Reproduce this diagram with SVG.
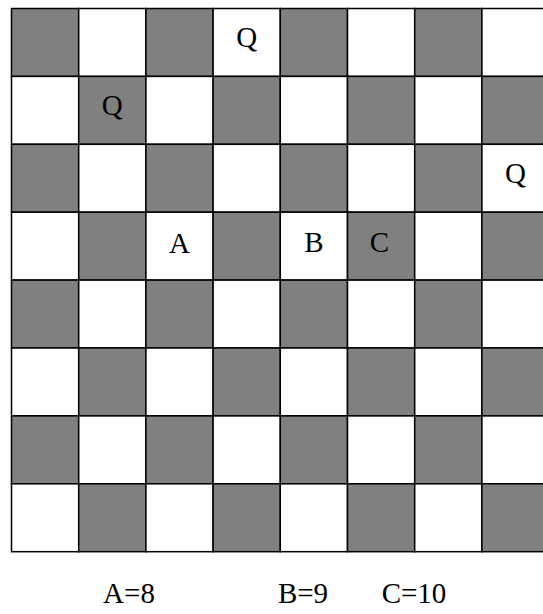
<svg xmlns="http://www.w3.org/2000/svg" width="543" height="614" viewBox="0 0 543 614">
<style>
.d{fill:#808080;stroke:#000;stroke-width:1.5}
.l{fill:#fff;stroke:#000;stroke-width:1.5}
text{font-family:"Liberation Serif","DejaVu Serif",serif;font-size:29px;fill:#000;text-anchor:middle}
</style>
<rect width="543" height="614" fill="#fff"/>
<g id="board">
<rect class="d" x="11.5" y="8.5" width="67.2" height="67.9"/><rect class="l" x="78.7" y="8.5" width="67.2" height="67.9"/><rect class="d" x="145.9" y="8.5" width="67.2" height="67.9"/><rect class="l" x="213.1" y="8.5" width="67.2" height="67.9"/><rect class="d" x="280.3" y="8.5" width="67.2" height="67.9"/><rect class="l" x="347.5" y="8.5" width="67.2" height="67.9"/><rect class="d" x="414.7" y="8.5" width="67.2" height="67.9"/><rect class="l" x="481.9" y="8.5" width="67.2" height="67.9"/>
<rect class="l" x="11.5" y="76.4" width="67.2" height="67.9"/><rect class="d" x="78.7" y="76.4" width="67.2" height="67.9"/><rect class="l" x="145.9" y="76.4" width="67.2" height="67.9"/><rect class="d" x="213.1" y="76.4" width="67.2" height="67.9"/><rect class="l" x="280.3" y="76.4" width="67.2" height="67.9"/><rect class="d" x="347.5" y="76.4" width="67.2" height="67.9"/><rect class="l" x="414.7" y="76.4" width="67.2" height="67.9"/><rect class="d" x="481.9" y="76.4" width="67.2" height="67.9"/>
<rect class="d" x="11.5" y="144.3" width="67.2" height="67.9"/><rect class="l" x="78.7" y="144.3" width="67.2" height="67.9"/><rect class="d" x="145.9" y="144.3" width="67.2" height="67.9"/><rect class="l" x="213.1" y="144.3" width="67.2" height="67.9"/><rect class="d" x="280.3" y="144.3" width="67.2" height="67.9"/><rect class="l" x="347.5" y="144.3" width="67.2" height="67.9"/><rect class="d" x="414.7" y="144.3" width="67.2" height="67.9"/><rect class="l" x="481.9" y="144.3" width="67.2" height="67.9"/>
<rect class="l" x="11.5" y="212.2" width="67.2" height="67.9"/><rect class="d" x="78.7" y="212.2" width="67.2" height="67.9"/><rect class="l" x="145.9" y="212.2" width="67.2" height="67.9"/><rect class="d" x="213.1" y="212.2" width="67.2" height="67.9"/><rect class="l" x="280.3" y="212.2" width="67.2" height="67.9"/><rect class="d" x="347.5" y="212.2" width="67.2" height="67.9"/><rect class="l" x="414.7" y="212.2" width="67.2" height="67.9"/><rect class="d" x="481.9" y="212.2" width="67.2" height="67.9"/>
<rect class="d" x="11.5" y="280.1" width="67.2" height="67.9"/><rect class="l" x="78.7" y="280.1" width="67.2" height="67.9"/><rect class="d" x="145.9" y="280.1" width="67.2" height="67.9"/><rect class="l" x="213.1" y="280.1" width="67.2" height="67.9"/><rect class="d" x="280.3" y="280.1" width="67.2" height="67.9"/><rect class="l" x="347.5" y="280.1" width="67.2" height="67.9"/><rect class="d" x="414.7" y="280.1" width="67.2" height="67.9"/><rect class="l" x="481.9" y="280.1" width="67.2" height="67.9"/>
<rect class="l" x="11.5" y="348" width="67.2" height="67.9"/><rect class="d" x="78.7" y="348" width="67.2" height="67.9"/><rect class="l" x="145.9" y="348" width="67.2" height="67.9"/><rect class="d" x="213.1" y="348" width="67.2" height="67.9"/><rect class="l" x="280.3" y="348" width="67.2" height="67.9"/><rect class="d" x="347.5" y="348" width="67.2" height="67.9"/><rect class="l" x="414.7" y="348" width="67.2" height="67.9"/><rect class="d" x="481.9" y="348" width="67.2" height="67.9"/>
<rect class="d" x="11.5" y="415.9" width="67.2" height="67.9"/><rect class="l" x="78.7" y="415.9" width="67.2" height="67.9"/><rect class="d" x="145.9" y="415.9" width="67.2" height="67.9"/><rect class="l" x="213.1" y="415.9" width="67.2" height="67.9"/><rect class="d" x="280.3" y="415.9" width="67.2" height="67.9"/><rect class="l" x="347.5" y="415.9" width="67.2" height="67.9"/><rect class="d" x="414.7" y="415.9" width="67.2" height="67.9"/><rect class="l" x="481.9" y="415.9" width="67.2" height="67.9"/>
<rect class="l" x="11.5" y="483.8" width="67.2" height="67.9"/><rect class="d" x="78.7" y="483.8" width="67.2" height="67.9"/><rect class="l" x="145.9" y="483.8" width="67.2" height="67.9"/><rect class="d" x="213.1" y="483.8" width="67.2" height="67.9"/><rect class="l" x="280.3" y="483.8" width="67.2" height="67.9"/><rect class="d" x="347.5" y="483.8" width="67.2" height="67.9"/><rect class="l" x="414.7" y="483.8" width="67.2" height="67.9"/><rect class="d" x="481.9" y="483.8" width="67.2" height="67.9"/>
</g>
<g id="pieces">
<text x="246.7" y="47">Q</text>
<text x="112.3" y="115">Q</text>
<text x="515.5" y="183">Q</text>
<text x="179.5" y="253">A</text>
<text x="314" y="251.5">B</text>
<text x="379.5" y="251.5">C</text>
</g>
<g id="labels">
<text x="129" y="603">A=8</text>
<text x="303" y="603">B=9</text>
<text x="414" y="603">C=10</text>
</g>
</svg>
